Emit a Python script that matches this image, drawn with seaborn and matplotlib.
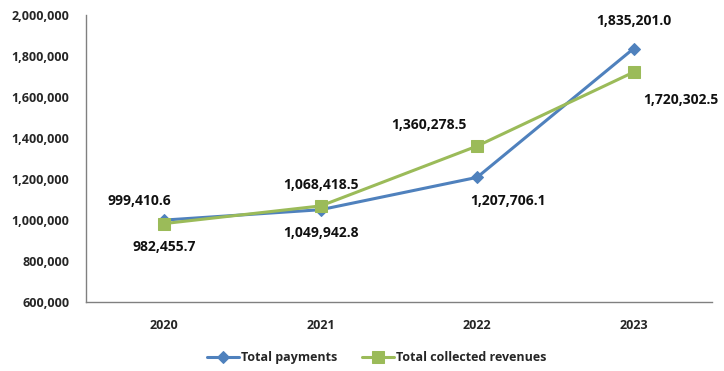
import matplotlib
matplotlib.use("Agg")
import matplotlib.pyplot as plt
import seaborn as sns
import pandas as pd
from matplotlib.ticker import FuncFormatter

years = ["2020", "2021", "2022", "2023"]
total_payments = [999410.6, 1049942.8, 1207706.1, 1835201.0]
total_revenues = [982455.7, 1068418.5, 1360278.5, 1720302.5]

sns.set_theme(style="white")
plt.rcParams["font.family"] = ["Open Sans", "DejaVu Sans"]

fig = plt.figure(figsize=(7.24, 3.71), dpi=100)
ax = fig.add_axes([0.119, 0.186, 0.864, 0.774])

pos = list(range(len(years)))
df_pay = pd.DataFrame({"x": pos, "y": total_payments})
df_rev = pd.DataFrame({"x": pos, "y": total_revenues})

blue = "#4F81BD"
green = "#9BBB59"
sns.lineplot(data=df_pay, x="x", y="y", ax=ax, color=blue, lw=2.2,
             marker="D", markersize=6, markeredgecolor=blue, label="Total payments")
sns.lineplot(data=df_rev, x="x", y="y", ax=ax, color=green, lw=2.2,
             marker="s", markersize=8, markeredgecolor=green, label="Total collected revenues")

ax.set_xlim(-0.5, 3.5)
ax.set_ylim(600000, 2000000)
ax.set_yticks(range(600000, 2000001, 200000))
ax.yaxis.set_major_formatter(FuncFormatter(lambda v, p: f"{int(v):,}"))
ax.set_xticks(pos)
ax.set_xticklabels(years)
ax.set_xlabel("")
ax.set_ylabel("")
for lab in ax.get_xticklabels() + ax.get_yticklabels():
    lab.set_fontweight("bold")
    lab.set_fontsize(9)
ax.tick_params(axis="x", pad=12, length=0)
ax.tick_params(axis="y", pad=12, length=0)

for s in ["top", "right"]:
    ax.spines[s].set_visible(False)
for s in ["left", "bottom"]:
    ax.spines[s].set_color("#808080")
    ax.spines[s].set_linewidth(1)

fmt = lambda v: f"{v:,.1f}"
kw = dict(fontsize=10, fontweight="bold", ha="center", va="center", color="#111111")
# label offsets in points
pay_off = [(-18, 14), (0, -17), (22, -17), (0, 20)]
rev_off = [(0, -17), (0, 15), (-35, 15), (34, -20)]
for i in pos:
    ax.annotate(fmt(total_payments[i]), (i, total_payments[i]),
                xytext=pay_off[i], textcoords="offset points", **kw)
    ax.annotate(fmt(total_revenues[i]), (i, total_revenues[i]),
                xytext=rev_off[i], textcoords="offset points", **kw)

leg = ax.legend(loc="center", bbox_to_anchor=(0.465, -0.195), ncol=2,
                frameon=False, fontsize=9, handlelength=2.5, columnspacing=2,
                handletextpad=0.2)
for t in leg.get_texts():
    t.set_fontweight("bold")

fig.savefig("out.png", dpi=100)
